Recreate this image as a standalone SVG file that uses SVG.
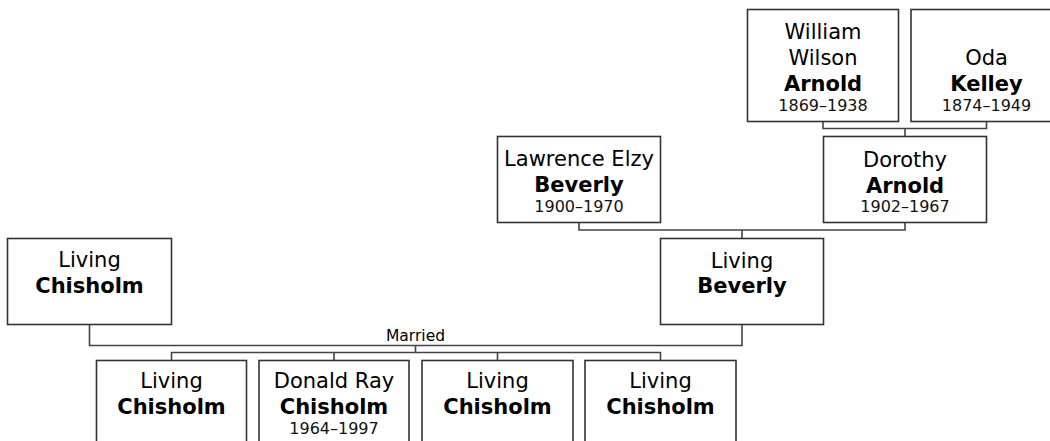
<svg xmlns="http://www.w3.org/2000/svg" width="1050" height="441" viewBox="0 0 1050 441">
<style>
.box{fill:#fff;stroke:#333;stroke-width:1.6}
.ln{fill:none;stroke:#444;stroke-width:1.6}
text{font-family:"DejaVu Sans","Verdana",sans-serif;fill:#000;text-anchor:middle}
.n{font-size:21px}
.b{font-size:21px;font-weight:bold}
.y{font-size:16px;fill:#111}
.lbl{font-size:15.5px}
</style>
<rect width="1050" height="441" fill="#fff"/>
<g id="connectors">
<path class="ln" d="M823,121.5 V128.5 H986.5 V121.5 M905,128.5 V136.5"/>
<path class="ln" d="M579,222.5 V230 H905 V222.5 M742,230 V238.5"/>
<path class="ln" d="M89.5,324.5 V345.5 H742 V324.5 M415.5,345.5 V352.5"/>
<path class="ln" d="M171.5,360.5 V352.5 H660.5 V360.5 M334,352.5 V360.5 M497.5,352.5 V360.5"/>
<text class="lbl" x="415.5" y="341">Married</text>
</g>
<g id="william">
<rect class="box" x="747.5" y="9.5" width="151" height="112"/>
<text class="n" x="823" y="39">William</text>
<text class="n" x="823" y="65">Wilson</text>
<text class="b" x="823" y="90.5">Arnold</text>
<text class="y" x="823" y="110.5">1869–1938</text>
</g>
<g id="oda">
<rect class="box" x="911" y="9.5" width="151" height="112"/>
<text class="n" x="986.5" y="65">Oda</text>
<text class="b" x="986.5" y="90.5">Kelley</text>
<text class="y" x="986.5" y="110.5">1874–1949</text>
</g>
<g id="dorothy">
<rect class="box" x="823.5" y="136.5" width="163" height="86"/>
<text class="n" x="905" y="166.5">Dorothy</text>
<text class="b" x="905" y="192.5">Arnold</text>
<text class="y" x="905" y="212">1902–1967</text>
</g>
<g id="lawrence">
<rect class="box" x="497.5" y="136.5" width="163" height="86"/>
<text class="n" x="579" y="166">Lawrence Elzy</text>
<text class="b" x="579" y="192">Beverly</text>
<text class="y" x="579" y="211.5">1900–1970</text>
</g>
<g id="living-beverly">
<rect class="box" x="660.5" y="238.5" width="163" height="86"/>
<text class="n" x="742" y="268">Living</text>
<text class="b" x="742" y="293">Beverly</text>
</g>
<g id="living-chisholm">
<rect class="box" x="7.5" y="238.5" width="164" height="86"/>
<text class="n" x="89.5" y="267">Living</text>
<text class="b" x="89.5" y="293">Chisholm</text>
</g>
<g id="child1">
<rect class="box" x="96.5" y="360.5" width="150" height="86"/>
<text class="n" x="171.5" y="388">Living</text>
<text class="b" x="171.5" y="414">Chisholm</text>
</g>
<g id="child2">
<rect class="box" x="259" y="360.5" width="150" height="86"/>
<text class="n" x="334" y="388">Donald Ray</text>
<text class="b" x="334" y="414">Chisholm</text>
<text class="y" x="334" y="434">1964–1997</text>
</g>
<g id="child3">
<rect class="box" x="422" y="360.5" width="151" height="86"/>
<text class="n" x="497.5" y="388">Living</text>
<text class="b" x="497.5" y="414">Chisholm</text>
</g>
<g id="child4">
<rect class="box" x="585" y="360.5" width="151" height="86"/>
<text class="n" x="660.5" y="388">Living</text>
<text class="b" x="660.5" y="414">Chisholm</text>
</g>
</svg>
